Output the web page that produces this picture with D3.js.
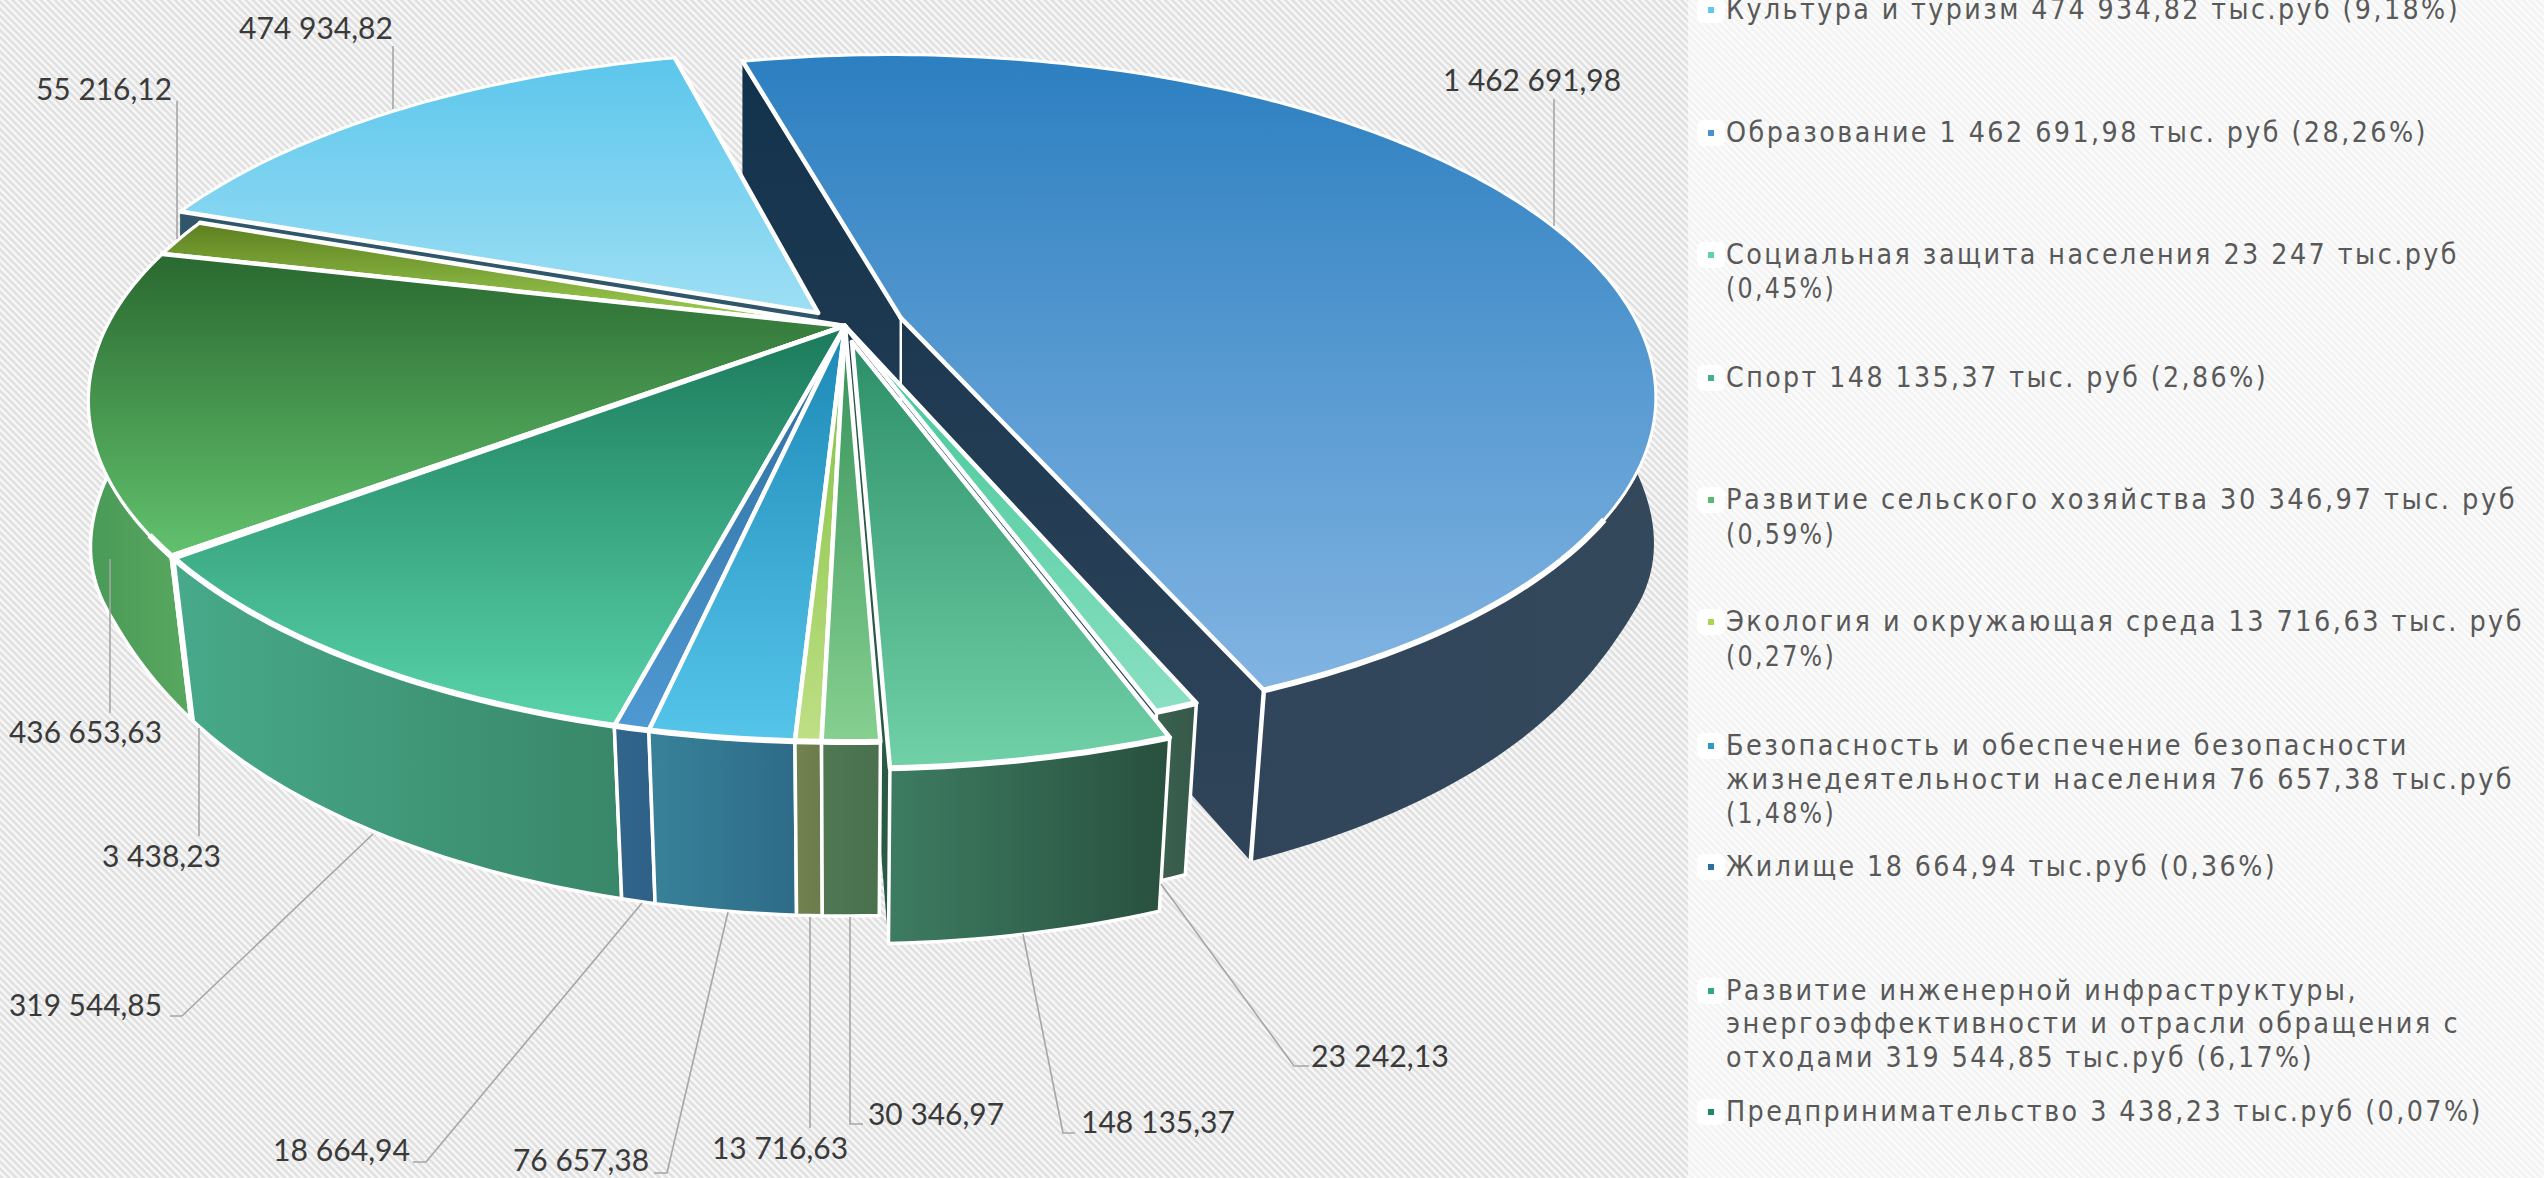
<!DOCTYPE html>
<html><head><meta charset="utf-8">
<style>html,body{margin:0;padding:0;background:#fff;overflow:hidden}svg{display:block}</style>
<script src="https://cdn.jsdelivr.net/npm/d3@7/dist/d3.min.js"></script>
</head><body><svg id="c" width="2544" height="1178"></svg>
<script>
// ---- data ----
const sliceNames = ["Культура и туризм","Образование","Социальная защита населения","Спорт","Развитие сельского хозяйства","Экология и окружающая среда","Безопасность и обеспечение безопасности жизнедеятельности населения","Жилище","Развитие инженерной инфраструктуры, энергоэффективности и отрасли обращения с отходами","Предпринимательство","Прочее 436 653,63","Прочее 55 216,12"];
const sliceValues = [474934.82,1462691.98,23242.13,148135.37,30346.97,13716.63,76657.38,18664.94,319544.85,3438.23,436653.63,55216.12];
const sliceExplode = [0.055,0.08,0,0.05,0,0,0,0,0,0,0,0];
const topTop    = ["#5cc6ec","#2c7fc0","#3fc596","#2d8f68","#33905a","#7fbf3f","#1c88b6","#2c6c9c","#1b7a5b","#1d6b4a","#2a682f","#5c7f1f"];
const topBottom = ["#9edff4","#82b4e2","#8ae0c2","#70d1a8","#86d090","#bfdf85","#56c5ea","#4f99d2","#59d4aa","#6cc080","#62c26e","#a2d255"];
const wallLeft  = ["#3a5a6c","#2d4258","#3d6450","#3d7c62","#4f7852","#72834f","#388299","#31658c","#47aa8a","#3f9a70","#4a9a58","#5a7a30"];
const wallRight = ["#30566a","#34485c","#36584a","#28503e","#4a704e","#6a7c4c","#2e6b88","#2e6088","#398769","#3a9068","#58a860","#567428"];
const drawOrder = [1,0,11,10,9,8,7,6,5,4,2,3];

const labelAnchors = [
 {i:0,x0:239,x1:393,y:39, leader:[[393,46],[393,109]]},
 {i:1,x0:1443,x1:1621,y:91, leader:[[1554,99],[1554,226]]},
 {i:2,x0:1311,x1:1449,y:1067, leader:[[1161,884],[1294,1066],[1309,1066]]},
 {i:3,x0:1081,x1:1235,y:1133, leader:[[1023,934],[1063,1133],[1075,1133]]},
 {i:4,x0:868,x1:1004,y:1125, leader:[[850,917],[850,1124],[863,1124]]},
 {i:5,x0:712,x1:848,y:1159, leader:[[810,917],[810,1128]]},
 {i:6,x0:513,x1:649,y:1171, leader:[[728,912],[667,1173],[654,1173]]},
 {i:7,x0:273,x1:410,y:1161, leader:[[642,903],[426,1162],[413,1162]]},
 {i:8,x0:9,x1:162,y:1016, leader:[[373,834],[182,1016],[170,1016]]},
 {i:9,x0:102,x1:221,y:867, leader:[[199,728],[199,836]]},
 {i:10,x0:9,x1:162,y:743, leader:[[110,559],[110,713]]},
 {i:11,x0:36,x1:172,y:100, leader:[[177,101],[177,239]]}
];

const legendItems = [
 {color:"#62c8ee",lines:[["Культура и туризм 474 934,82 тыс.руб (9,18%)",19,2460]]},
 {color:"#4a90d0",lines:[["Образование 1 462 691,98 тыс. руб (28,26%)",142,2428]]},
 {color:"#62d2a6",lines:[["Социальная защита населения 23 247 тыс.руб",264,2459],["(0,45%)",298,1836]]},
 {color:"#45b088",lines:[["Спорт 148 135,37 тыс. руб (2,86%)",387,2268]]},
 {color:"#5cba6c",lines:[["Развитие сельского хозяйства 30 346,97 тыс. руб",509,2517],["(0,59%)",544,1836]]},
 {color:"#a8d64f",lines:[["Экология и окружающая среда 13 716,63 тыс. руб",631,2524],["(0,27%)",666,1836]]},
 {color:"#2a9cc8",lines:[["Безопасность и обеспечение безопасности",755,2409],["жизнедеятельности населения 76 657,38 тыс.руб",789,2514],["(1,48%)",823,1836]]},
 {color:"#2a6fa0",lines:[["Жилище 18 664,94 тыс.руб (0,36%)",876,2277]]},
 {color:"#30a880",lines:[["Развитие инженерной инфраструктуры,",1000,2358],["энергоэффективности и отрасли обращения с",1033,2460],["отходами 319 544,85 тыс.руб (6,17%)",1067,2314]]},
 {color:"#1e8a60",lines:[["Предпринимательство 3 438,23 тыс.руб (0,07%)",1121,2483]]}
];

// ---- set-up ----
const svg = d3.select("#c");
const defs = svg.append("defs");
const W=2544,H=1178;
const hatch = defs.append("pattern").attr("id","hatch").attr("width",5).attr("height",5)
  .attr("patternUnits","userSpaceOnUse").attr("patternTransform","rotate(45)");
hatch.append("rect").attr("width",5).attr("height",5).attr("fill","#f8f8f8");
hatch.append("rect").attr("width",5).attr("height",2.5).attr("fill","#dfdfdf");
svg.append("rect").attr("width",W).attr("height",H).attr("fill","url(#hatch)");
svg.append("rect").attr("x",1688).attr("width",W-1688).attr("height",H).attr("fill","#fff").attr("opacity",0.6);

// ---- projection ----
const cx=845, cy=326, k=0.22;
const sx=d3.scaleLinear().domain([-1,1]).range([-738,738]);
const sy=d3.scaleLinear().domain([-1,1]).range([-324.5,324.5]);
const depth=151;
const shrink=d3.scaleLinear().domain([0,0.7]).range([0,1]).clamp(true);
function project(X,Y,z){
  const D=1-k*Y+0.026*d3.easeCubicInOut(shrink(Y))*z;
  return [cx+sx(X)/D, cy+(sy(Y)+depth*z)/D];
}
const pie=d3.pie().sort(null).value(d=>d)
  .startAngle(-70*Math.PI/180).endAngle(290*Math.PI/180);
const arcs=pie(sliceValues);
const line=d3.line();

function geom(i){
  const a=arcs[i], mid=(a.startAngle+a.endAngle)/2, e=sliceExplode[i];
  const ox=e*Math.sin(mid), oy=-e*Math.cos(mid);
  const n=Math.max(2,Math.ceil((a.endAngle-a.startAngle)/0.02));
  const angs=d3.range(n+1).map(j=>a.startAngle+(a.endAngle-a.startAngle)*j/n);
  const p=(t,z)=>project(ox+Math.sin(t),oy-Math.cos(t),z);
  const apex=z=>project(ox,oy,z);
  return {angs,p,apex,a};
}
function grad(id,dir,c0,c1){
  const g=defs.append("linearGradient").attr("id",id)
    .attr("x1",0).attr("y1",0).attr("x2",dir==="h"?1:0).attr("y2",dir==="h"?0:1);
  g.append("stop").attr("offset",0).attr("stop-color",c0);
  g.append("stop").attr("offset",1).attr("stop-color",c1);
}
const rg=defs.append("linearGradient").attr("id","radEdu").attr("gradientUnits","userSpaceOnUse")
  .attr("x1",0).attr("y1",60).attr("x2",0).attr("y2",800);
rg.append("stop").attr("offset",0).attr("stop-color","#12324c");
rg.append("stop").attr("offset",1).attr("stop-color","#2f4459");

const gSl=svg.append("g");
function radial(sel,g,col){
  [g.a.startAngle,g.a.endAngle].forEach(t=>{
    sel.append("path").attr("d",line([g.apex(0),g.p(t,0),g.p(t,1),g.apex(1)])+"Z").attr("fill",col);
  });
}
drawOrder.forEach(i=>{
  const g=geom(i), s=gSl.append("g").attr("class","slice");
  grad("t"+i,"v",topTop[i],topBottom[i]);
  grad("w"+i,"h",wallLeft[i],wallRight[i]);
  const isEdu=i===1;
  const wall=g.angs.map(t=>g.p(t,0)).concat(g.angs.slice().reverse().map(t=>g.p(t,1)));
  s.append("path").attr("d",line(wall)+"Z").attr("fill","url(#w"+i+")")
    .attr("stroke",isEdu||i===0?"none":"#fff").attr("stroke-width",3.5).attr("stroke-linejoin","round");
  if(isEdu){
    radial(s,g,"url(#radEdu)");
    s.append("path").attr("d",line([g.apex(0),g.apex(1)])).attr("stroke","#fff").attr("stroke-width",2.5);
    s.append("path").attr("d",line([g.p(g.a.endAngle,0),g.p(g.a.endAngle,1)])).attr("stroke","#fff").attr("stroke-width",4.5);
  } else if(i===0){
    radial(s,g,wallRight[i]);
  }
  const top=[g.apex(0)].concat(g.angs.map(t=>g.p(t,0)));
  s.append("path").attr("d",line(top)+"Z").attr("fill","url(#t"+i+")")
    .attr("stroke","#fff").attr("stroke-width",3).attr("stroke-linejoin","round");
  // thicker white on the radial edges and on the near rim
  [g.a.startAngle,g.a.endAngle].forEach(t=>{
    s.append("path").attr("d",line([g.apex(0),g.p(t,0)])).attr("stroke","#fff").attr("stroke-width",4.5).attr("stroke-linecap","round");
  });
  const near=g.angs.filter(t=>Math.cos(t)<-0.55);
  if(near.length>1) s.append("path").attr("d",line(near.map(t=>g.p(t,0)))).attr("fill","none").attr("stroke","#fff").attr("stroke-width",6);
});
// the exploded "Спорт" slice shows its cut face only through the gap next to the main body
{
  const g=geom(3);
  const holder=gSl.insert("g",".slice:nth-child(3)");
  radial(holder,g,"#2a5a46");
}

// ---- data labels ----
const fmt=d3.formatLocale({decimal:",",thousands:"\u00a0",grouping:[3],currency:["",""]}).format(",.2f");
const gL=svg.append("g");
labelAnchors.forEach(l=>{
  gL.append("path").attr("d",line(l.leader)).attr("fill","none").attr("stroke","#a6a6a6").attr("stroke-width",1.6);
  gL.append("text").attr("x",l.x0).attr("y",l.y).attr("textLength",l.x1-l.x0).attr("lengthAdjust","spacingAndGlyphs")
    .attr("font-family","Lato").attr("font-size",31).attr("fill","#3a3a3a")
    .text(fmt(sliceValues[l.i]));
});

// ---- legend ----
const gLe=svg.append("g");
legendItems.forEach(it=>{
  const y=it.lines[0][1];
  gLe.append("rect").attr("x",1697).attr("y",y-22).attr("width",28).attr("height",26).attr("rx",7).attr("fill","#fff");
  gLe.append("rect").attr("x",1708).attr("y",y-12).attr("width",6).attr("height",6).attr("fill",it.color);
  it.lines.forEach(([t,yy,xe])=>{
    gLe.append("text").attr("x",1726).attr("y",yy).attr("textLength",xe-1726).attr("lengthAdjust","spacingAndGlyphs")
      .attr("font-family","'DejaVu Sans Condensed','DejaVu Sans'").attr("font-size",29).attr("fill","#595959")
      .attr("letter-spacing",2.5).text(t);
  });
});
</script></body></html>
